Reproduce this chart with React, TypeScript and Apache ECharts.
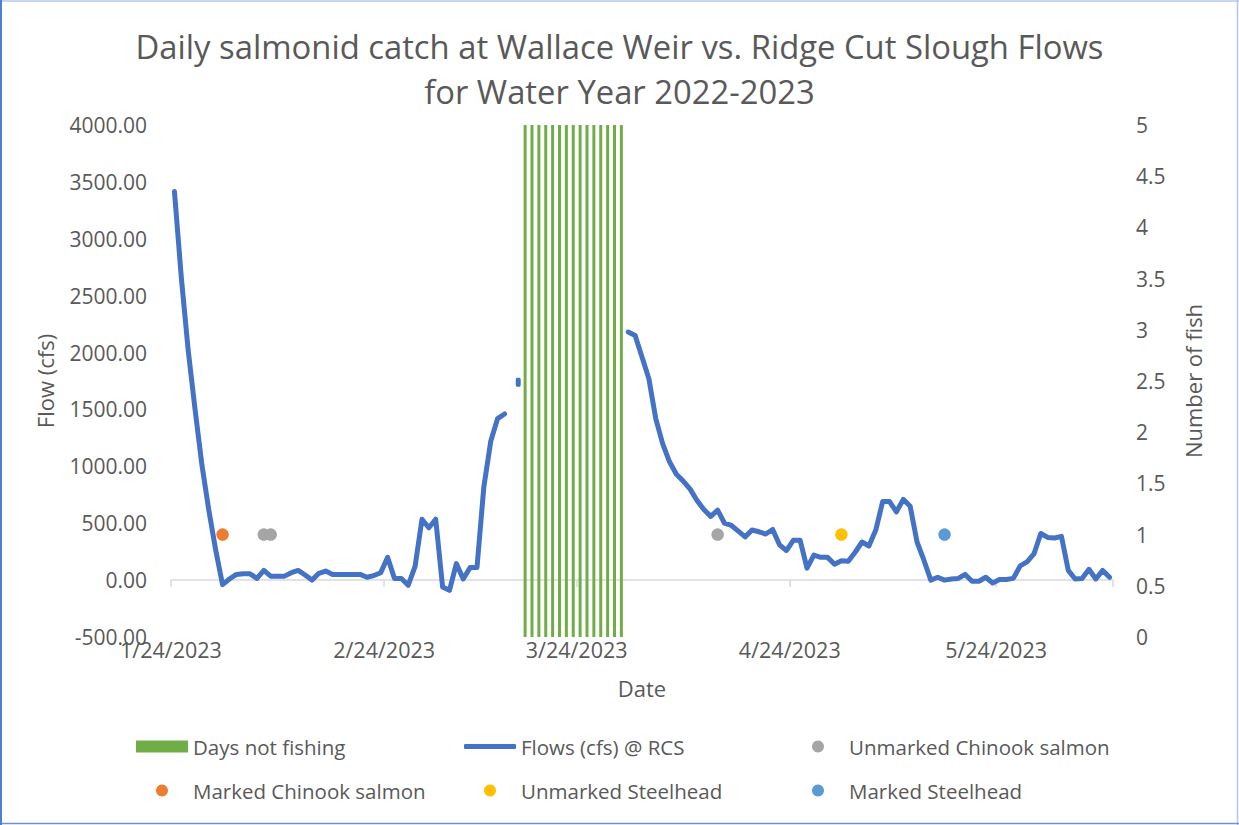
import React, { useEffect, useRef } from "react";
import * as echarts from "echarts";

// ---------- DATA ----------
const START_DATE = "2023-01-24";
const DAY_COUNT = 137;

const dates: string[] = (() => {
  const out: string[] = [];
  const [y, m, d] = START_DATE.split("-").map(Number);
  for (let i = 0; i < DAY_COUNT; i++) {
    const dt = new Date(Date.UTC(y, m - 1, d + i));
    out.push(`${dt.getUTCMonth() + 1}/${dt.getUTCDate()}/${dt.getUTCFullYear()}`);
  }
  return out;
})();

const tickDates = ["1/24/2023", "2/24/2023", "3/24/2023", "4/24/2023", "5/24/2023"];

// Daily flow (cfs) at Ridge Cut Slough, 1/24/2023 .. 6/9/2023 (null = no data)
const flows: (number | null)[] = [
  3415, 2660, 2020, 1500, 1010, 615, 265, -40, 10, 50,
  55, 55, 15, 85, 35, 35, 35, 65, 85, 45,
  0, 60, 80, 50, 50, 50, 50, 50, 25, 40,
  65, 200, 15, 15, -45, 120, 535, 460, 535, -60,
  -90, 145, 10, 110, 110, 820, 1220, 1420, 1460, null,
  1740, null, null, null, null, null, null, null, null, null,
  null, null, null, null, null, null, 2180, 2150, 1960, 1770,
  1420, 1200, 1040, 930, 870, 800, 700, 620, 560, 615,
  500, 480, 430, 380, 440, 425, 405, 445, 310, 260,
  350, 350, 105, 220, 200, 200, 140, 170, 165, 245,
  335, 300, 440, 690, 690, 600, 710, 650, 335, 175,
  0, 25, 0, 10, 15, 50, -10, -10, 25, -25,
  5, 5, 15, 125, 160, 230, 410, 375, 370, 385,
  85, 10, 15, 95, 10, 85, 25,
];

const noFishingDates = [
  "3/16/2023", "3/17/2023", "3/18/2023", "3/19/2023", "3/20/2023",
  "3/21/2023", "3/22/2023", "3/23/2023", "3/24/2023", "3/25/2023",
  "3/26/2023", "3/27/2023", "3/28/2023", "3/29/2023", "3/30/2023",
];
const noFishingValue = 5;

const unmarkedChinook: [string, number][] = [["2/6/2023", 1], ["2/7/2023", 1], ["4/13/2023", 1]];
const markedChinook: [string, number][] = [["1/31/2023", 1]];
const unmarkedSteelhead: [string, number][] = [["5/1/2023", 1]];
const markedSteelhead: [string, number][] = [["5/16/2023", 1]];

// ---------- STYLE ----------
const FONT = "Open Sans";
const TEXT = "#595959";
const BLUE = "#4472c4";
const GREEN = "#70ad47";

export default function App() {
  const ref = useRef<HTMLDivElement>(null);

  useEffect(() => {
    document.body.style.margin = "0";
    if (!ref.current) return;
    const chart = echarts.init(ref.current, undefined, { renderer: "svg" });

    const barData = dates.map((d) => (noFishingDates.includes(d) ? noFishingValue : null));
    const lineData = flows.map((v, i) => {
      const prev = i > 0 ? flows[i - 1] : null;
      const next = i < flows.length - 1 ? flows[i + 1] : null;
      if (v !== null && prev === null && next === null) {
        return { value: v, symbol: "roundRect", symbolSize: [5, 9], itemStyle: { color: BLUE, opacity: 1 } };
      }
      return v;
    });

    const isTick = (_i: number, val: string) => tickDates.includes(val);

    const legendBase = {
      orient: "horizontal",
      padding: 0,
      itemWidth: 52,
      itemHeight: 12,
      selectedMode: false,
      textStyle: { fontSize: 20.5, color: TEXT, fontFamily: FONT },
    };
    const COL = [136, 464, 792];
    const DOT_OFF = 20; // circle icon (12px) sits centered in the 52px slot
    const ROW = [736, 780];

    const scatter = (name: string, color: string, data: [string, number][]) => ({
      name,
      type: "scatter",
      yAxisIndex: 1,
      symbol: "circle",
      symbolSize: 12.5,
      itemStyle: { color, opacity: 1 },
      data,
      z: 4,
    });

    chart.setOption({
      animation: false,
      backgroundColor: "#ffffff",
      textStyle: { fontFamily: FONT },
      title: {
        text: "Daily salmonid catch at Wallace Weir vs. Ridge Cut Slough Flows\nfor Water Year 2022-2023",
        left: "center",
        top: 24,
        padding: 0,
        textStyle: { fontSize: 32.8, fontWeight: "normal", color: TEXT, fontFamily: FONT, lineHeight: 45 },
      },
      grid: { left: 171, right: 126, top: 125, bottom: 188, containLabel: false },
      xAxis: {
        type: "category",
        data: dates,
        boundaryGap: true,
        offset: -22,
        name: "Date",
        nameLocation: "middle",
        nameGap: 62,
        nameTextStyle: { fontSize: 22, color: TEXT, fontFamily: FONT },
        axisLine: { show: true, lineStyle: { color: "#d9d9d9", width: 1.5 } },
        axisTick: { show: true, interval: isTick, length: 7, lineStyle: { color: "#d9d9d9", width: 1.5 } },
        axisLabel: {
          interval: isTick,
          margin: 23,
          fontSize: 21.5,
          color: TEXT,
          fontFamily: FONT,
          padding: [0, 7, 0, 0],
        },
        splitLine: { show: false },
      },
      yAxis: [
        {
          type: "value",
          min: -500,
          max: 4000,
          interval: 500,
          position: "left",
          name: "Flow (cfs)",
          nameLocation: "middle",
          nameGap: 115,
          nameTextStyle: { fontSize: 22, color: TEXT, fontFamily: FONT },
          axisLine: { show: false },
          axisTick: { show: false },
          splitLine: { show: false },
          axisLabel: {
            margin: 24,
            fontSize: 21,
            color: TEXT,
            fontFamily: FONT,
            formatter: (v: number) => v.toFixed(2),
          },
        },
        {
          type: "value",
          min: 0,
          max: 5,
          interval: 0.5,
          position: "right",
          name: "Number of fish",
          nameLocation: "middle",
          nameGap: 69,
          nameTextStyle: { fontSize: 22, color: TEXT, fontFamily: FONT },
          axisLine: { show: false },
          axisTick: { show: false },
          splitLine: { show: false },
          axisLabel: {
            margin: 23,
            fontSize: 21,
            color: TEXT,
            fontFamily: FONT,
            formatter: (v: number) => String(v),
          },
        },
      ],
      legend: [
        { ...legendBase, data: [{ name: "Days not fishing", icon: "rect" }], left: COL[0], top: ROW[0] },
        { ...legendBase, data: [{ name: "Marked Chinook salmon", icon: "circle" }], left: COL[0] + DOT_OFF, top: ROW[1] },
        {
          ...legendBase,
          itemHeight: 5,
          data: [{ name: "Flows (cfs) @ RCS", icon: "roundRect" }],
          left: COL[1],
          top: ROW[0],
        },
        { ...legendBase, data: [{ name: "Unmarked Steelhead", icon: "circle" }], left: COL[1] + DOT_OFF, top: ROW[1] },
        { ...legendBase, data: [{ name: "Unmarked Chinook salmon", icon: "circle" }], left: COL[2] + DOT_OFF, top: ROW[0] },
        { ...legendBase, data: [{ name: "Marked Steelhead", icon: "circle" }], left: COL[2] + DOT_OFF, top: ROW[1] },
      ],
      series: [
        {
          name: "Days not fishing",
          type: "bar",
          yAxisIndex: 1,
          data: barData,
          barWidth: 3,
          itemStyle: { color: GREEN },
          z: 1,
        },
        {
          name: "Flows (cfs) @ RCS",
          type: "line",
          yAxisIndex: 0,
          data: lineData,
          showSymbol: true,
          showAllSymbol: true,
          symbol: "none",
          connectNulls: false,
          lineStyle: { width: 5, color: BLUE, cap: "round", join: "round" },
          itemStyle: { color: BLUE },
          z: 3,
        },
        scatter("Unmarked Chinook salmon", "#a5a5a5", unmarkedChinook),
        scatter("Marked Chinook salmon", "#ed7d31", markedChinook),
        scatter("Unmarked Steelhead", "#ffc000", unmarkedSteelhead),
        scatter("Marked Steelhead", "#5b9bd5", markedSteelhead),
      ],
      graphic: [
        { type: "line", shape: { x1: 0, y1: 1, x2: 1239, y2: 1 }, style: { stroke: "#b4c7e7", lineWidth: 1.5 } },
        { type: "line", shape: { x1: 1237.5, y1: 0, x2: 1237.5, y2: 825 }, style: { stroke: "#b4c7e7", lineWidth: 1.5 } },
        { type: "line", shape: { x1: 0, y1: 823.5, x2: 1239, y2: 823.5 }, style: { stroke: "#6d93d3", lineWidth: 1.5 } },
        { type: "line", shape: { x1: 1, y1: 0, x2: 1, y2: 825 }, style: { stroke: "#4f7fcf", lineWidth: 2 } },
      ],
    });

    return () => chart.dispose();
  }, []);

  return <div ref={ref} style={{ width: 1239, height: 825 }} />;
}
